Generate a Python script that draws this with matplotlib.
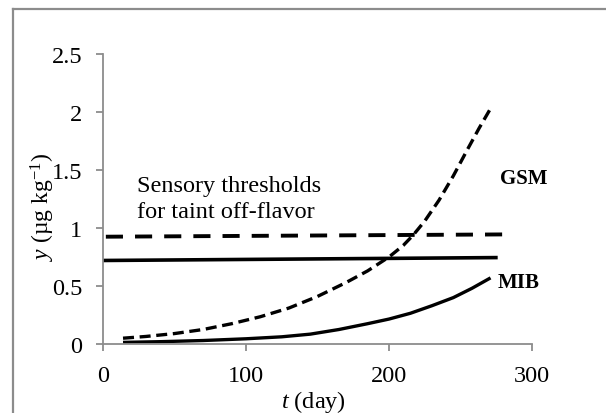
import matplotlib
matplotlib.use("Agg")
import matplotlib.pyplot as plt
from matplotlib.lines import Line2D

plt.rcParams['font.family'] = ['Liberation Serif', 'DejaVu Serif']
plt.rcParams['mathtext.fontset'] = 'custom'
plt.rcParams['mathtext.rm'] = 'Liberation Serif'
plt.rcParams['mathtext.it'] = 'Liberation Serif:italic'

# Data
gsm_days = [14, 30, 50, 70, 90, 110, 130, 150, 170, 185, 200, 210, 217, 225, 235, 245, 255, 263, 271]
gsm_vals = [0.05, 0.065, 0.09, 0.125, 0.175, 0.235, 0.31, 0.41, 0.53, 0.63, 0.75, 0.85, 0.94,
            1.06, 1.24, 1.45, 1.68, 1.86, 2.03]
mib_days = [14, 40, 70, 100, 125, 145, 165, 185, 200, 215, 230, 245, 258, 271]
mib_vals = [0.014, 0.02, 0.03, 0.045, 0.062, 0.085, 0.125, 0.175, 0.215, 0.265, 0.33, 0.40, 0.48, 0.57]
gsm_thr_days = [2, 285]
gsm_thr_vals = [0.925, 0.945]
mib_thr_days = [0, 276]
mib_thr_vals = [0.72, 0.745]
x_ticks = [0, 100, 200, 300]
y_ticks = [0, 0.5, 1, 1.5, 2, 2.5]
y_ticklabels = ['0', '0.5', '1', '1.5', '2', '2.5']

W, H = 606, 414
fig = plt.figure(figsize=(W / 100, H / 100), dpi=100)
fig.patch.set_facecolor('white')
ax = fig.add_axes([103 / W, 1 - 345 / H, (532 - 103) / W, (345 - 55) / H])

ax.plot(gsm_thr_days, gsm_thr_vals, color='black', lw=2.8, linestyle=(0, (4.4, 3.1)),
        dash_capstyle='butt', clip_on=False)
ax.plot(mib_thr_days, mib_thr_vals, color='black', lw=2.6, solid_capstyle='butt', clip_on=False)
ax.plot(gsm_days, gsm_vals, color='black', lw=2.4, linestyle=(0, (3.3, 1.7)),
        dash_capstyle='butt', clip_on=False)
ax.plot(mib_days, mib_vals, color='black', lw=2.4, solid_capstyle='butt', clip_on=False)

ax.set_xlim(0, 300)
ax.set_ylim(0, 2.5)
ax.set_xticks(x_ticks)
ax.set_yticks(y_ticks)
ax.set_yticklabels(y_ticklabels)
for s in ['top', 'right']:
    ax.spines[s].set_visible(False)
for s in ['left', 'bottom']:
    ax.spines[s].set_color('#8c8c8c')
    ax.spines[s].set_linewidth(1.3)
ax.tick_params(axis='both', direction='out', length=5, width=1.3, color='#8c8c8c',
               labelsize=17.5, pad=10, labelcolor='black')

fig.text(43 / W, 1 - 207 / H, '$y$ (µg kg$^{\\mathregular{-1}}$)', rotation=90,
         ha='center', va='center', fontsize=17)
fig.text(313 / W, 1 - 402 / H, '$t$ (day)', ha='center', va='center', fontsize=17.5)

fig.text(137 / W, 1 - 192 / H, 'Sensory thresholds', ha='left', va='baseline', fontsize=17.5)
fig.text(137 / W, 1 - 218 / H, 'for taint off-flavor', ha='left', va='baseline', fontsize=17.5)
fig.text(500 / W, 1 - 179 / H, 'GSM', ha='left', va='center', fontsize=15, fontweight='bold')
fig.text(498 / W, 1 - 283 / H, 'MIB', ha='left', va='center', fontsize=15, fontweight='bold')

# outer chart border (left and top edges visible)
fig.add_artist(Line2D([13 / W, 13 / W], [0, 1 - 9.5 / H], transform=fig.transFigure,
                      color='#8c8c8c', lw=1.6))
fig.add_artist(Line2D([13 / W, 1], [1 - 9.5 / H, 1 - 9.5 / H], transform=fig.transFigure,
                      color='#8c8c8c', lw=1.6))

fig.savefig('out.png', dpi=100)
